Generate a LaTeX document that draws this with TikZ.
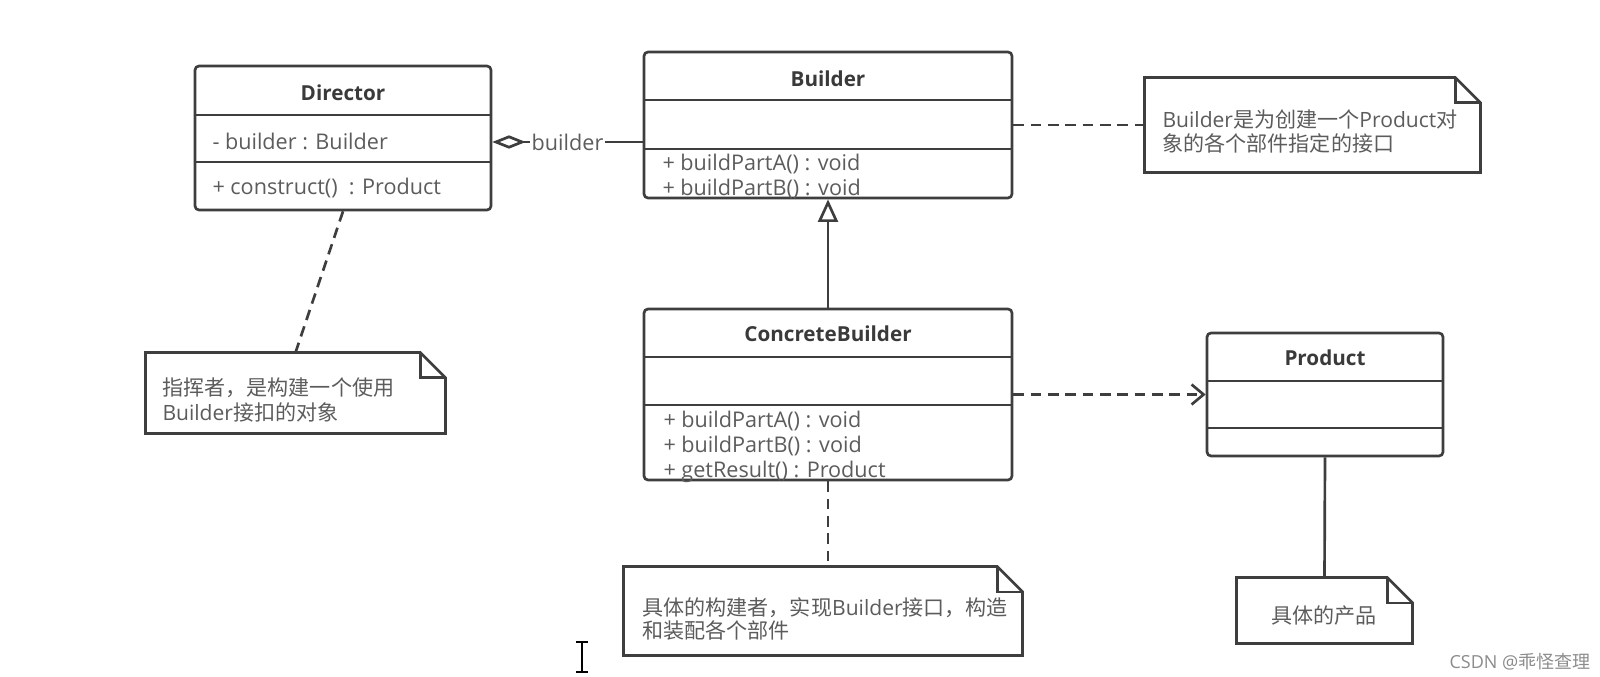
\documentclass[tikz,border=0pt]{standalone}
\usepackage{fontspec}
\setmainfont{Open Sans}
\newfontfamily\cjk{Noto Sans CJK SC}
\newcommand{\cj}[1]{{\cjk #1}}
\usetikzlibrary{fit,arrows.meta}

\definecolor{linec}{RGB}{62,62,62}
\definecolor{txtc}{RGB}{92,92,92}
\definecolor{titlec}{RGB}{58,58,58}

\tikzset{every picture/.style={line width=0.75pt}}
\tikzset{
  umlbox/.style={draw=linec, line width=2pt, rounded corners=3pt, inner sep=0pt},
  umlrule/.style={draw=linec, line width=2pt},
  classname/.style={text=titlec, inner sep=0pt, font=\bfseries\fontsize{15.5}{18}\selectfont},
  member/.style={text=txtc, inner sep=0pt, font=\fontsize{16.2}{18}\selectfont},
  notebody/.style={inner sep=0pt},
  notetext/.style={text=txtc, inner sep=0pt, font=\fontsize{15.8}{18}\selectfont},
  dashline/.style={draw=linec, line width=2pt, dash pattern=on 8pt off 5pt},
}

% dog-eared outline round a note node
\newcommand{\dognote}[1]{%
  \draw[umlrule] (#1.north west) -- ([xshift=-19pt]#1.north east) -- ([yshift=19pt]#1.north east) -- (#1.south east) -- (#1.south west) -- cycle;
  \draw[umlrule] ([xshift=-19pt]#1.north east) -- ([xshift=-19pt,yshift=19pt]#1.north east) -- ([yshift=19pt]#1.north east);
}

\begin{document}
\begin{tikzpicture}[x=0.75pt,y=0.75pt,yscale=-1,xscale=1]
\fill[white] (0,0) rectangle (1600,677);
\useasboundingbox (0,0) rectangle (1600,677);

%Shape: Class [id:director]
\node[umlbox, fit={(195,66) (491,210)}] (director) {};
\draw[umlrule] (director.west |- 0,115) -- (director.east |- 0,115);
\draw[umlrule] (director.west |- 0,162) -- (director.east |- 0,162);
%Shape: Class [id:builder]
\node[umlbox, fit={(644,52) (1012,198)}] (builder) {};
\draw[umlrule] (builder.west |- 0,100) -- (builder.east |- 0,100);
\draw[umlrule] (builder.west |- 0,149) -- (builder.east |- 0,149);
%Shape: Class [id:concrete]
\node[umlbox, fit={(644,309) (1012,480)}] (concrete) {};
\draw[umlrule] (concrete.west |- 0,357) -- (concrete.east |- 0,357);
\draw[umlrule] (concrete.west |- 0,405) -- (concrete.east |- 0,405);
%Shape: Class [id:product]
\node[umlbox, fit={(1207,333) (1443,456)}] (product) {};
\draw[umlrule] (product.west |- 0,381) -- (product.east |- 0,381);
\draw[umlrule] (product.west |- 0,428) -- (product.east |- 0,428);

%Shape: Notes
\node[notebody, fit={(1145,78) (1480,172)}] (note1) {};
\dognote{note1}
\node[notebody, fit={(146,353) (445,433)}] (note2) {};
\dognote{note2}
\node[notebody, fit={(624,567) (1022,655)}] (note3) {};
\dognote{note3}
\node[notebody, fit={(1237,578) (1412,643)}] (note4) {};
\dognote{note4}

%Straight Lines: aggregation
\draw[umlrule, {Diamond[open,length=25pt,width=10pt]}-] ([yshift=3pt]director.east) -- ([yshift=3pt]director.east -| builder.west)
  node[member, midway, fill=white, inner sep=1.5pt] (aggr) {builder};
%Straight Lines: generalization
\draw[umlrule, -{Triangle[open,length=17pt,width=15pt]}] (concrete.north) -- (builder.south);
%Straight Lines: dependency
\draw[dashline, -{Straight Barb[length=9pt,width=15pt]}] (concrete.east) -- (product.west);
%Straight Lines: note links
\draw[dashline] (builder.east) -- (note1.west);
\draw[dashline] (director.south) -- (note2.north);
\draw[dashline] (concrete.south) -- (concrete.south |- note3.north);
\draw[umlrule] (product.south) -- (note4.north);

% Text Node
\node[classname, anchor=base] (dir-name) at (343,101) {Director};
\node[member, anchor=base west] (dir-attr) at (212,150) {- builder : Builder};
\node[member, anchor=base west] (dir-op) at (212,195) {+ construct()\ \ : Product};
% Text Node
\node[classname, anchor=base] (bld-name) at (828,87) {Builder};
\node[member, anchor=base west] (bld-opa) at (662,171) {+ buildPartA() : void};
\node[member, anchor=base west] (bld-opb) at (662,196) {+ buildPartB() : void};
% Text Node
\node[classname, anchor=base] (cb-name) at (828,342) {ConcreteBuilder};
\node[member, anchor=base west] (cb-opa) at (663,427) {+ buildPartA() : void};
\node[member, anchor=base west] (cb-opb) at (663,452) {+ buildPartB() : void};
\node[member, anchor=base west] (cb-opc) at (663,477) {+ getResult() : Product};
% Text Node
\node[classname, anchor=base] (prod-name) at (1325,366) {Product};

% Text Node
\node[notetext, anchor=base west] (n1a) at (1162,128) {Builder\cj{是为创建一个}Product\cj{对}};
\node[notetext, anchor=base west] (n1b) at (1162,152) {\cj{象的各个部件指定的接口}};
% Text Node
\node[notetext, anchor=base west] (n2a) at (162,395) {\cj{指挥者，是构建一个使用}};
\node[notetext, anchor=base west] (n2b) at (162,420) {Builder\cj{接扣的对象}};
% Text Node
\node[notetext, anchor=base west] (n3a) at (642,615) {\cj{具体的构建者，实现}Builder\cj{接口，构造}};
\node[notetext, anchor=base west] (n3b) at (642,638) {\cj{和装配各个部件}};
% Text Node
\node[notetext, anchor=base] (n4a) at (1324,623) {\cj{具体的产品}};

%Text cursor
\draw[line width=1.8pt] (582,643) -- (582,671);
\draw[line width=1.8pt] (576,642) -- (588,642);
\draw[line width=1.8pt] (576,672) -- (588,672);

% Text Node
\node[anchor=base west, inner sep=0pt, text=black!45, font=\fontsize{13.5}{16}\selectfont] (mark) at (1449,668) {CSDN @\cj{乖怪查理}};

\end{tikzpicture}
\end{document}
